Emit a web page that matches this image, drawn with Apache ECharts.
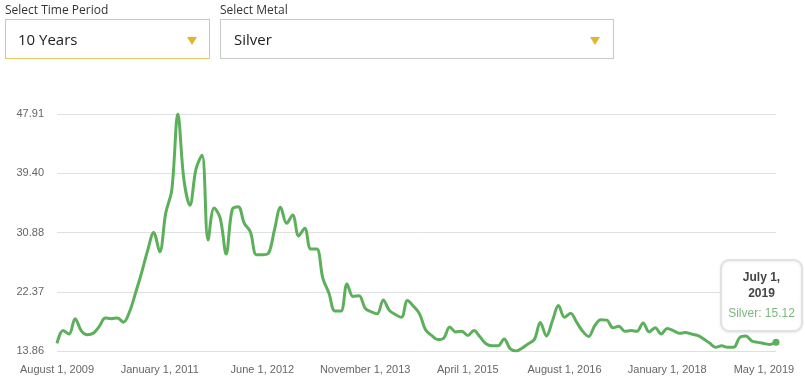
<!DOCTYPE html>
<html>
<head>
<meta charset="utf-8">
<script src="https://cdn.jsdelivr.net/npm/echarts@6/dist/echarts.min.js"></script>
<style>
  html, body { margin: 0; padding: 0; background: #fff; }
  #wrap { position: relative; width: 805px; height: 389px; overflow: hidden; }
  #chart { position: absolute; left: 0; top: 0; width: 805px; height: 389px; }
  .lbl { position: absolute; top: 2px; font: 12px "Open Sans", sans-serif; color: #333; line-height: 16px; }
  .sel { position: absolute; top: 19px; height: 38px; box-sizing: content-box; background: #fff;
         font: 15px "Open Sans", sans-serif; color: #222; line-height: 38px; }
  .sel span { position: absolute; left: 12px; top: 0; }
  .tri { position: absolute; top: 17px; width: 0; height: 0;
         border-left: 5px solid transparent; border-right: 5px solid transparent; border-top: 8px solid #e3b62f; }
</style>
</head>
<body>
<div id="wrap">
  <div id="chart"></div>
  <div class="lbl" style="left:5px">Select Time Period</div>
  <div class="lbl" style="left:220px">Select Metal</div>
  <div class="sel" style="left:5px;width:203px;border:1px solid #e8c861;">
    <span>10 Years</span><div class="tri" style="left:181px"></div>
  </div>
  <div class="sel" style="left:220px;width:392px;border:1px solid #c9c9c9;">
    <span style="left:13px">Silver</span><div class="tri" style="left:369px"></div>
  </div>
</div>
<script>
// ---- data ----
const seriesName = "Silver";
const startYear = 2009;
const startMonth = 7; // August (0-based)
const monthNames = ["January","February","March","April","May","June","July","August","September","October","November","December"];
const silverValues = [
  14.95, 16.8, 16.3, 18.5, 16.8, 16.2, 16.4, 17.4, 18.6, 18.5,
  18.6, 18.0, 19.5, 22.2, 25.1, 28.3, 30.9, 28.1, 33.7, 37.0,
  47.91, 38.5, 34.8, 40.0, 42.0, 29.8, 34.4, 33.0, 27.8, 34.2,
  34.6, 32.2, 31.0, 27.7, 27.7, 27.9, 31.3, 34.5, 32.2, 33.4,
  30.4, 31.5, 28.5, 28.5, 24.3, 22.2, 19.6, 19.6, 23.5, 21.7,
  21.8, 20.0, 19.5, 19.2, 21.2, 19.7, 19.1, 18.7, 21.1, 20.3,
  19.2, 16.9, 16.1, 15.5, 15.7, 17.3, 16.6, 16.7, 16.1, 16.8,
  15.9, 14.9, 14.6, 14.6, 15.6, 14.2, 13.86, 14.3, 14.9, 15.5,
  17.95, 16.0, 18.2, 20.4, 18.7, 19.3, 18.0, 16.7, 15.95, 17.5,
  18.35, 18.3, 17.2, 17.4, 16.7, 16.8, 16.7, 17.9, 16.6, 17.2,
  16.3, 17.1, 16.8, 16.4, 16.5, 16.3, 16.1, 15.6, 15.0, 14.4,
  14.6, 14.4, 14.4, 15.8, 16.0, 15.3, 15.1, 14.95, 14.8, 15.12
];
const xTickIndices = [0, 17, 34, 51, 68, 84, 101, 117];
const yTickValues = [13.86, 22.3725, 30.885, 39.3975, 47.91];
const yTickLabels = ["13.86", "22.37", "30.88", "39.40", "47.91"];

const categories = silverValues.map((v, i) => {
  const m = (startMonth + i) % 12;
  const y = startYear + Math.floor((startMonth + i) / 12);
  return monthNames[m] + " 1, " + y;
});
// ---- chart ----
const lineColor = "#5cb05c";
const lastIdx = silverValues.length - 1;
const lastCat = categories[lastIdx];
const parts = lastCat.split(", ");

const chart = echarts.init(document.getElementById("chart"), null, { renderer: "canvas" });
chart.setOption({
  animation: false,
  grid: { left: 57, right: 29, top: 114, bottom: 38, containLabel: false },
  xAxis: {
    type: "category",
    data: categories,
    boundaryGap: false,
    axisLine: { show: false },
    axisTick: { show: false },
    axisLabel: {
      interval: (idx) => xTickIndices.indexOf(idx) >= 0,
      color: "#666",
      fontFamily: "Liberation Sans",
      fontSize: 11,
      margin: 13
    },
    splitLine: { show: false }
  },
  yAxis: {
    type: "value",
    min: yTickValues[0],
    max: yTickValues[yTickValues.length - 1],
    axisLine: { show: false },
    axisTick: { show: false, customValues: yTickValues },
    axisLabel: {
      customValues: yTickValues,
      formatter: (val) => {
        let best = 0, d = Infinity;
        yTickValues.forEach((t, k) => { if (Math.abs(t - val) < d) { d = Math.abs(t - val); best = k; } });
        return yTickLabels[best];
      },
      color: "#666",
      fontFamily: "Liberation Sans",
      fontSize: 11,
      margin: 13
    },
    splitLine: { show: true, lineStyle: { color: "#e0e0e0", width: 1 } }
  },
  series: [{
    name: seriesName,
    type: "line",
    data: silverValues,
    smooth: 0.35,
    showSymbol: true,
    showAllSymbol: true,
    symbol: "circle",
    symbolSize: (v, p) => (p.dataIndex === lastIdx ? 7 : 0),
    itemStyle: { color: lineColor },
    lineStyle: { color: lineColor, width: 3 },
    emphasis: { disabled: true }
  }],
  graphic: [{
    type: "group",
    left: 720,
    top: 259,
    z: 100,
    silent: true,
    children: [
      { type: "rect", z: 100, shape: { x: 0, y: 0, width: 81, height: 71, r: 8 },
        style: { fill: "#ffffff", stroke: "#e2e2e2", lineWidth: 2,
                 shadowBlur: 3, shadowColor: "rgba(0,0,0,0.08)", shadowOffsetY: 1 } },
      { type: "text", z: 101, x: 40.5, y: 18, style: { text: parts[0] + ",", fill: "#444", font: "bold 12px 'Liberation Sans'", align: "center", verticalAlign: "middle" } },
      { type: "text", z: 101, x: 40.5, y: 34, style: { text: parts[1], fill: "#444", font: "bold 12px 'Liberation Sans'", align: "center", verticalAlign: "middle" } },
      { type: "text", z: 101, x: 40.5, y: 54, style: { text: seriesName + ": " + silverValues[lastIdx].toFixed(2), fill: "#7cb87c", font: "12px 'Liberation Sans'", align: "center", verticalAlign: "middle" } }
    ]
  }]
});
</script>
</body>
</html>
